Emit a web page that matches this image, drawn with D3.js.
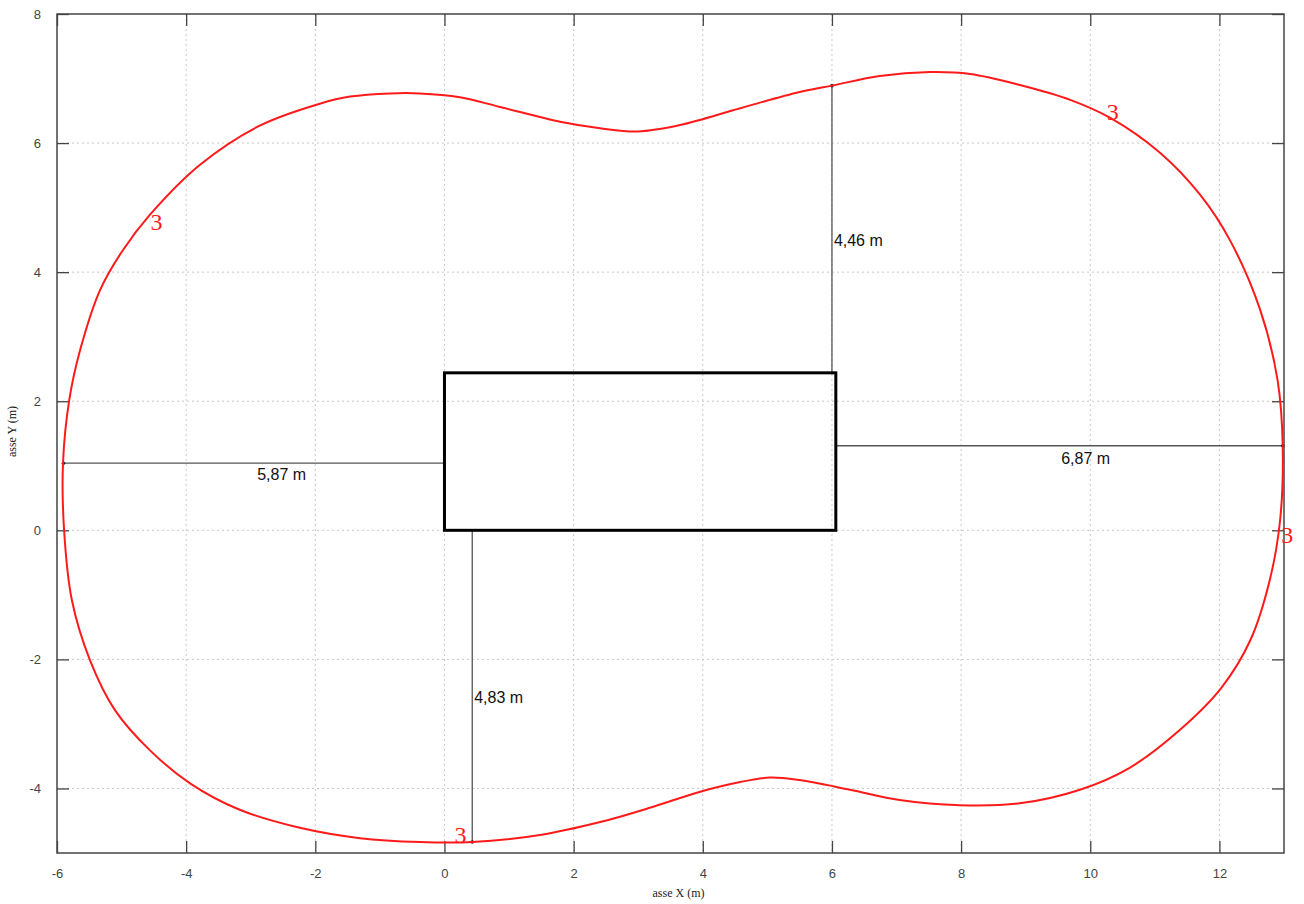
<!DOCTYPE html>
<html><head><meta charset="utf-8">
<script src="https://cdn.jsdelivr.net/npm/d3@7"></script>
<style>body{margin:0;background:#fff}</style>
</head><body>
<svg id="c" width="1304" height="904"></svg>
<script>
// Curve (closed) in metres
const curveX = [-5.907,-5.89,-5.77,-5.49,-5.10,-4.56,-3.94,-3.17,-2.24,-1.31,-0.38,0.43,1.48,2.41,3.18,3.96,4.58,5.04,5.50,6.28,7.05,7.98,8.91,9.84,10.61,11.39,12.03,12.48,12.78,12.94,12.98,12.90,12.63,12.16,11.70,11.08,10.31,9.69,8.91,8.14,7.52,6.74,6.00,5.50,4.58,3.65,2.99,2.41,1.79,0.86,0.24,-0.38,-0.84,-1.46,-1.93,-2.86,-3.79,-4.56,-4.98,-5.33,-5.64,-5.81];
const curveY = [1.04,0.0,-1.08,-2.01,-2.79,-3.41,-3.92,-4.33,-4.61,-4.77,-4.83,-4.83,-4.72,-4.52,-4.30,-4.05,-3.90,-3.83,-3.87,-4.02,-4.18,-4.26,-4.23,-4.02,-3.68,-3.09,-2.44,-1.70,-0.77,0.16,1.31,2.33,3.42,4.50,5.20,5.85,6.39,6.67,6.90,7.07,7.10,7.04,6.89,6.79,6.54,6.28,6.18,6.23,6.33,6.56,6.71,6.77,6.77,6.72,6.61,6.27,5.66,4.89,4.34,3.73,2.80,2.02];
// Building rectangle
const rectX = [0, 6.06];
const rectY = [0, 2.44];
// Dimension segments and labels
const dimLines = [
  {x1:-5.90,y1:1.04,x2:0,y2:1.04,label:"5,87 m",lx:-2.9,ly:0.78},
  {x1:6.06,y1:1.31,x2:12.98,y2:1.31,label:"6,87 m",lx:9.55,ly:1.03},
  {x1:6.0,y1:2.44,x2:6.0,y2:6.89,label:"4,46 m",lx:6.03,ly:4.4},
  {x1:0.43,y1:0,x2:0.43,y2:-4.83,label:"4,83 m",lx:0.46,ly:-2.68}
];
const marks3 = [[-4.46,4.65],[10.35,6.35],[13.05,-0.2],[0.25,-4.85]];
const xTicks = [-6,-4,-2,0,2,4,6,8,10,12];
const yTicks = [-4,-2,0,2,4,6,8];

const svg = d3.select("#c");
const L=57,R=1284,T=14,B=853;
const x = d3.scaleLinear().domain([-6,13]).range([L,R]);
const y = d3.scaleLinear().domain([-5,8]).range([B,T]);

// grid
const g = svg.append("g");
g.selectAll(".gx").data(xTicks.filter(d=>d>-6)).join("line")
  .attr("x1",d=>x(d)).attr("x2",d=>x(d)).attr("y1",T).attr("y2",B)
  .attr("stroke","#c8c8c8").attr("stroke-dasharray","2,3");
g.selectAll(".gy").data(yTicks.filter(d=>d<8)).join("line")
  .attr("y1",d=>y(d)).attr("y2",d=>y(d)).attr("x1",L).attr("x2",R)
  .attr("stroke","#c8c8c8").attr("stroke-dasharray","2,3");

// axes with inward ticks
const fmt = d=>String(d);
const axB = d3.axisBottom(x).tickValues(xTicks).tickSize(-12).tickPadding(16).tickFormat(fmt);
const axL = d3.axisLeft(y).tickValues(yTicks).tickSize(-12).tickPadding(16).tickFormat(fmt);
const axT = d3.axisTop(x).tickValues(xTicks).tickSize(-12).tickFormat("");
const axR = d3.axisRight(y).tickValues(yTicks).tickSize(-12).tickFormat("");
function style(sel){
  sel.select(".domain").remove();
  sel.selectAll(".tick line").attr("stroke","#444").attr("stroke-width",1.3);
  sel.selectAll("text").attr("fill","#444").style("font-family","Liberation Sans, Arial, sans-serif").style("font-size","13px");
}
svg.append("g").attr("transform",`translate(0,${B})`).call(axB).call(style);
svg.append("g").attr("transform",`translate(${L},0)`).call(axL).call(style);
svg.append("g").attr("transform",`translate(0,${T})`).call(axT).call(style);
svg.append("g").attr("transform",`translate(${R},0)`).call(axR).call(style);
svg.append("rect").attr("x",L).attr("y",T).attr("width",R-L).attr("height",B-T)
  .attr("fill","none").attr("stroke","#444").attr("stroke-width",1.5);

// axis titles
svg.append("text").attr("x",(L+R)/2+8).attr("y",897).attr("text-anchor","middle")
  .style("font-family","Liberation Serif, Times New Roman, serif").style("font-size","12px").attr("fill","#222").text("asse X (m)");
svg.append("text").attr("transform",`translate(16,${(T+B)/2-2}) rotate(-90)`).attr("text-anchor","middle")
  .style("font-family","Liberation Serif, Times New Roman, serif").style("font-size","12px").attr("fill","#222").text("asse Y (m)");

// dimension lines
svg.selectAll(".dim").data(dimLines).join("line")
  .attr("x1",d=>x(d.x1)).attr("y1",d=>y(d.y1)).attr("x2",d=>x(d.x2)).attr("y2",d=>y(d.y2))
  .attr("stroke","#555").attr("stroke-width",1.3);
svg.selectAll(".dimdot").data(dimLines).join("circle")
  .attr("cx",(d,i)=> i==0?x(d.x1):x(d.x2)).attr("cy",(d,i)=> i==0?y(d.y1):y(d.y2)).attr("r",1.8).attr("fill","#222");
svg.selectAll(".dimlab").data(dimLines).join("text")
  .attr("x",d=>x(d.lx)).attr("y",d=>y(d.ly))
  .style("font-family","Liberation Sans, Arial, sans-serif").style("font-size","16px").attr("fill","#111").text(d=>d.label);

// rectangle
svg.append("rect").attr("x",x(rectX[0])).attr("y",y(rectY[1]))
  .attr("width",x(rectX[1])-x(rectX[0])).attr("height",y(rectY[0])-y(rectY[1]))
  .attr("fill","none").attr("stroke","#000").attr("stroke-width",3);

// curve
const pts = curveX.map((v,i)=>[v,curveY[i]]);
const line = d3.line().x(d=>x(d[0])).y(d=>y(d[1])).curve(d3.curveCatmullRomClosed.alpha(0.5));
svg.append("path").attr("d",line(pts)).attr("fill","none").attr("stroke","#ff1a1a").attr("stroke-width",2);

// contour labels
svg.selectAll(".m3").data(marks3).join("text")
  .attr("x",d=>x(d[0])).attr("y",d=>y(d[1])).attr("text-anchor","middle")
  .style("font-family","Liberation Serif, Times New Roman, serif").style("font-size","24px").attr("fill","#ff1a1a").text("3");
</script>
</body></html>
